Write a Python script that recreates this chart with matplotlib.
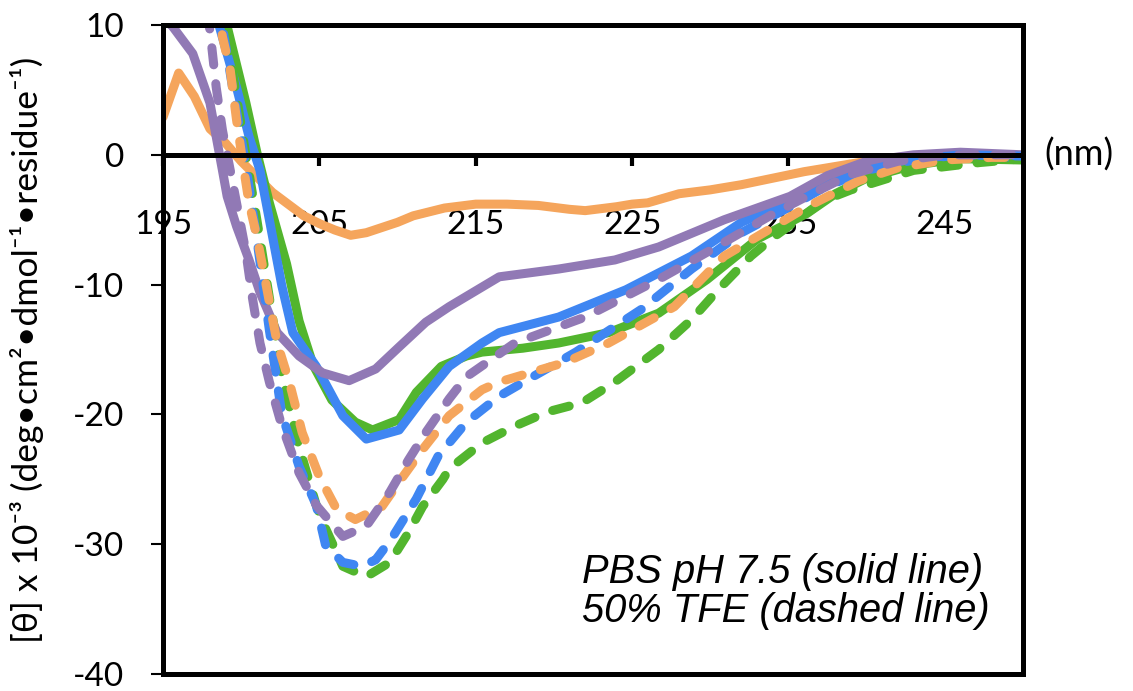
import matplotlib
matplotlib.use("Agg")
import matplotlib.pyplot as plt

plt.rcParams["axes.unicode_minus"] = False

# PBS pH 7.5 (solid lines)
orange_x = [195, 196, 197, 198, 199, 200, 201, 202, 203, 204, 205, 206, 207, 208, 209, 210, 211, 213, 215,
            217, 219, 221, 222, 224, 225, 226, 228, 230, 232, 234, 236, 238, 240, 242, 244, 246, 248, 250]
orange_y = [2.9, 6.3, 4.5, 2.0, 0.9, -0.5, -1.7, -2.9, -3.8, -4.7, -5.3, -5.8, -6.2, -6.0, -5.6, -5.2, -4.7, -4.1, -3.8,
            -3.8, -3.9, -4.2, -4.3, -4.0, -3.8, -3.7, -3.0, -2.7, -2.3, -1.8, -1.3, -0.9, -0.5, -0.2, 0.0, 0.0, -0.1, -0.2]

green_x = [198.7, 199.1, 200.3, 201.0, 201.8, 202.9, 203.7, 204.6, 205.8, 207.3, 208.4, 210.1, 211.2, 212.8, 214.4,
           215.4, 218, 220.3, 223.5, 226.7, 229.8, 233.0, 236.2, 238, 240, 243, 246, 250]
green_y = [12, 9.9, 4.0, 0.2, -3.7, -8.4, -12.8, -16.2, -18.9, -20.6, -21.2, -20.4, -18.3, -16.3, -15.5,
           -15.2, -14.9, -14.5, -13.7, -12.2, -9.6, -6.5, -4.5, -3.0, -1.8, -0.8, -0.3, -0.4]

blue_x = [198.0, 198.6, 199.7, 200.5, 201.2, 201.8, 202.6, 203.3, 204.8, 206.5, 208.0, 210.1, 211.6, 213.3, 215.4,
          216.5, 220.3, 224.6, 228.8, 232.0, 235.1, 237.5, 240, 243, 246, 250]
blue_y = [12, 9.9, 5.2, 1.4, -1.2, -5.0, -10.1, -13.7, -16.3, -20.1, -21.9, -21.2, -18.8, -16.3, -14.5,
          -13.7, -12.5, -10.4, -7.8, -5.2, -3.5, -2.0, -1.0, -0.3, 0.0, -0.2]

purple_x = [195, 195.6, 196.9, 198.0, 198.4, 198.8, 199.1, 199.7, 200.5, 201.2, 202.3, 203.7, 205.2, 206.9, 208.6,
            210.1, 211.8, 213.3, 216.5, 220.3, 223.9, 226.7, 230.9, 235.1, 237.5, 240, 243, 246, 250]
purple_y = [10.5, 9.9, 7.8, 4.0, 1.4, -1.2, -3.2, -5.5, -8.1, -10.6, -13.7, -15.5, -16.8, -17.4, -16.5,
            -14.8, -12.9, -11.7, -9.4, -8.8, -8.1, -7.1, -5.0, -3.2, -1.6, -0.5, 0.0, 0.2, 0.0]

# 50% TFE (dashed lines)
green_d_x = [198.5, 198.9, 199.5, 200.3, 201.0, 201.8, 202.6, 203.7, 204.8, 205.4, 206.5, 208.0, 209.5, 210.7, 211.6,
             212.9, 213.3, 215.4, 217.5, 219.6, 221.8, 223.9, 226.7, 228.8, 230.5, 232.6, 234.1, 237.3, 239.0,
             243.0, 247.2, 250]
green_d_y = [12, 10.5, 6.0, 0.0, -5.0, -11.0, -17.0, -22.5, -27.0, -28.8, -31.7, -32.5, -31.4, -29.1, -27.1,
             -25.0, -24.2, -22.2, -20.9, -19.8, -19.1, -17.5, -15.0, -12.7, -10.4, -7.8, -6.3, -3.5, -2.7,
             -1.2, -0.6, -0.3]

blue_d_x = [198.3, 198.8, 199.5, 200.3, 201.0, 201.8, 202.6, 203.7, 204.8, 205.4, 206.5, 207.7, 208.6, 209.6, 211.2,
            212.6, 214.4, 216.5, 218.5, 221.4, 225.6, 228.8, 232.0, 235.1, 237.3, 240, 243, 246, 250]
blue_d_y = [12, 9.9, 4.8, -0.8, -6.5, -13.5, -20.0, -24.0, -27.0, -30.1, -31.4, -31.7, -31.2, -29.6, -26.5,
            -23.2, -20.6, -18.6, -17.2, -15.2, -11.9, -8.8, -6.0, -4.0, -2.5, -1.2, -0.4, 0.0, -0.1]

orange_d_x = [198.4, 198.8, 199.3, 199.7, 200.1, 200.5, 201.0, 201.4, 202.3, 203.1, 203.9, 205.0, 206.1, 207.3, 209.0,
              210.1, 211.6, 213.3, 215.4, 216.5, 220.7, 223.5, 227.7, 230.9, 233.0, 236.2, 239.5, 242, 245, 248, 250]
orange_d_y = [12, 9.1, 6.5, 2.7, -0.6, -3.7, -6.3, -8.8, -14.5, -17.6, -21.4, -24.8, -27.3, -28.1, -27.1,
              -25.2, -22.7, -20.1, -18.1, -17.5, -16.0, -14.5, -11.7, -7.8, -6.3, -4.0, -2.0, -1.0, -0.4, -0.2, -0.2]

purple_d_x = [197.8, 198.0, 198.4, 198.8, 199.3, 199.7, 200.3, 200.7, 201.2, 201.8, 202.6, 203.7, 204.8, 206.5, 208.0,
              209.5, 210.7, 211.8, 213.3, 214.4, 217.5, 222.0, 226.7, 229.8, 234.1, 236.5, 239, 242, 245, 250]
purple_d_y = [11, 9.6, 5.2, 1.9, -1.2, -3.7, -7.5, -10.9, -14.5, -17.5, -20.9, -24.5, -27.0, -29.4, -28.6,
              -26.0, -23.5, -21.4, -18.8, -17.1, -14.5, -12.5, -9.6, -7.5, -4.5, -3.0, -1.5, -0.5, 0.0, 0.0]

c_orange = "#F5A55C"
c_green = "#52B52E"
c_blue = "#3F86F2"
c_purple = "#9179B5"

fig = plt.figure(figsize=(11.33, 6.91), dpi=100)
ax = fig.add_axes([0.1439, 0.0246, 0.759, 0.9392])

lw = 6.5
solid = dict(lw=lw, solid_capstyle="round", solid_joinstyle="round")
ax.plot(orange_x, orange_y, color=c_orange, **solid)
ax.plot(green_x, green_y, color=c_green, **solid)
ax.plot(blue_x, blue_y, color=c_blue, **solid)
ax.plot(purple_x, purple_y, color=c_purple, **solid)

dash = (1.9, 2.1)
for xs, ys, c in [(green_d_x, green_d_y, c_green), (blue_d_x, blue_d_y, c_blue),
                  (orange_d_x, orange_d_y, c_orange), (purple_d_x, purple_d_y, c_purple)]:
    ax.plot(xs, ys, color=c, lw=lw, dashes=dash, dash_capstyle="round", dash_joinstyle="round")

ax.set_xlim(195, 250)
ax.set_ylim(-40, 10)

# x axis sits on the zero line, frame drawn separately at the bottom
ax.spines["bottom"].set_position(("data", 0))
for s in ax.spines.values():
    s.set_linewidth(3.6)
    s.set_zorder(5)
ax.plot([0, 1], [0, 0], transform=ax.transAxes, color="k", lw=3.6, clip_on=False, zorder=5)

ax.set_xticks([195, 205, 215, 225, 235, 245])
ax.set_yticks([10, 0, -10, -20, -30, -40])
tick_font = "Lato"
ax.tick_params(axis="x", direction="out", length=8, width=3, pad=32, labelsize=24)
ax.tick_params(axis="y", direction="out", length=9, width=1.5, pad=19, labelsize=24)
for lab in ax.get_xticklabels() + ax.get_yticklabels():
    lab.set_fontfamily(tick_font)

ax.set_ylabel("[θ] x 10⁻³ (deg•cm²•dmol⁻¹•residue⁻¹)", fontsize=25.5, family=["Lato", "DejaVu Sans"])
ax.yaxis.set_label_coords(-0.138, 0.5)

ax.text(1.025, 0, "(nm)", transform=ax.get_yaxis_transform(), fontsize=26, family="Lato",
        va="center", ha="left")

ax.text(0.487, 0.127, "PBS pH 7.5 (solid line)\n50% TFE (dashed line)", transform=ax.transAxes,
        fontsize=28.7, family="Liberation Sans", style="italic", va="center", ha="left", linespacing=1.06)

fig.savefig("out.png", dpi=100)
